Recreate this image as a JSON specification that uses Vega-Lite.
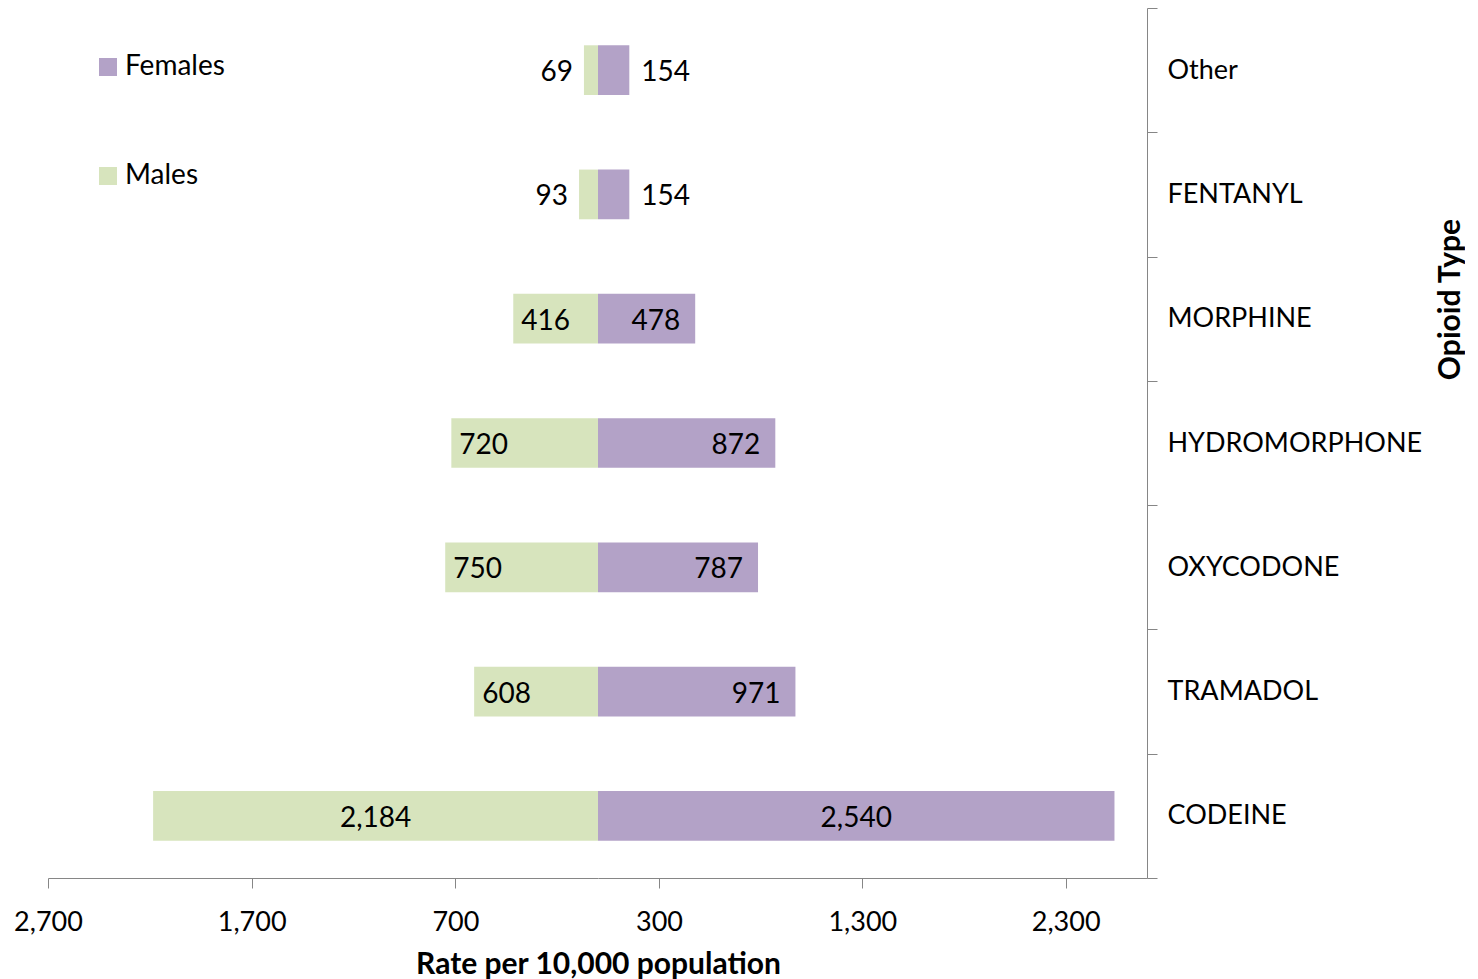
{
  "$schema": "https://vega.github.io/schema/vega-lite/v6.json",
  "autosize": "pad",
  "padding": {"left": 13, "top": -6, "right": 0, "bottom": 0},
  "background": "white",
  "data": {
    "values": [
      {"type": "Other", "sex": "Males", "value": 69},
      {"type": "Other", "sex": "Females", "value": 154},
      {"type": "FENTANYL", "sex": "Males", "value": 93},
      {"type": "FENTANYL", "sex": "Females", "value": 154},
      {"type": "MORPHINE", "sex": "Males", "value": 416},
      {"type": "MORPHINE", "sex": "Females", "value": 478},
      {"type": "HYDROMORPHONE", "sex": "Males", "value": 720},
      {"type": "HYDROMORPHONE", "sex": "Females", "value": 872},
      {"type": "OXYCODONE", "sex": "Males", "value": 750},
      {"type": "OXYCODONE", "sex": "Females", "value": 787},
      {"type": "TRAMADOL", "sex": "Males", "value": 608},
      {"type": "TRAMADOL", "sex": "Females", "value": 971},
      {"type": "CODEINE", "sex": "Males", "value": 2184},
      {"type": "CODEINE", "sex": "Females", "value": 2540}
    ]
  },
  "spacing": 0,
  "bounds": "flush",
  "resolve": {"scale": {"y": "shared", "x": "independent", "color": "shared"}},
  "hconcat": [
    {
      "width": 550,
      "height": 870,
      "transform": [{"filter": "datum.sex === 'Males'"}],
      "encoding": {
        "y": {
          "field": "type", "type": "nominal",
          "sort": ["Other", "FENTANYL", "MORPHINE", "HYDROMORPHONE", "OXYCODONE", "TRAMADOL", "CODEINE"],
          "scale": {"paddingInner": 0, "paddingOuter": 0},
          "axis": null
        }
      },
      "layer": [
        {
          "mark": {"type": "bar", "height": {"band": 0.4}},
          "encoding": {
            "x": {
              "field": "value", "type": "quantitative",
              "scale": {"domain": [0, 2700], "reverse": true, "nice": false, "zero": true},
              "axis": {"values": [700, 1700, 2700], "labelExpr": "format(datum.value, ',')", "title": null}
            },
            "color": {
              "field": "sex", "type": "nominal",
              "scale": {"domain": ["Females", "Males"], "range": ["#B3A2C7", "#D7E4BD"]},
              "legend": {
                "orient": "none", "legendX": 46, "legendY": 45, "title": null,
                "symbolType": "square", "symbolSize": 324, "symbolStrokeWidth": 0,
                "labelFont": "Lato", "labelFontSize": 28, "labelColor": "#000000",
                "labelOffset": 3, "rowPadding": 81
              }
            }
          }
        },
        {
          "transform": [{"filter": "datum.value < 300"}],
          "mark": {"type": "text", "align": "right", "dx": -11, "baseline": "middle", "dy": 3, "font": "Lato", "fontSize": 28, "color": "#000000"},
          "encoding": {
            "x": {"field": "value", "type": "quantitative", "scale": {"domain": [0, 2700], "reverse": true, "nice": false}, "axis": null},
            "text": {"field": "value", "type": "quantitative", "format": ","}
          }
        },
        {
          "transform": [{"filter": "datum.value >= 300 && datum.value < 2000"}],
          "mark": {"type": "text", "align": "left", "dx": 8, "baseline": "middle", "dy": 3, "font": "Lato", "fontSize": 28, "color": "#000000"},
          "encoding": {
            "x": {"field": "value", "type": "quantitative", "scale": {"domain": [0, 2700], "reverse": true, "nice": false}, "axis": null},
            "text": {"field": "value", "type": "quantitative", "format": ","}
          }
        },
        {
          "transform": [{"filter": "datum.value >= 2000"}],
          "mark": {"type": "text", "align": "center", "baseline": "middle", "dy": 3, "font": "Lato", "fontSize": 28, "color": "#000000"},
          "encoding": {
            "x": {"field": "value", "type": "quantitative", "scale": {"domain": [0, 5400], "reverse": true, "nice": false}, "axis": null},
            "text": {"field": "value", "type": "quantitative", "format": ","}
          }
        }
      ],
      "resolve": {"scale": {"x": "independent"}}
    },
    {
      "width": 549,
      "height": 870,
      "transform": [{"filter": "datum.sex === 'Females'"}],
      "encoding": {
        "y": {
          "field": "type", "type": "nominal",
          "sort": ["Other", "FENTANYL", "MORPHINE", "HYDROMORPHONE", "OXYCODONE", "TRAMADOL", "CODEINE"],
          "scale": {"paddingInner": 0, "paddingOuter": 0},
          "axis": {
            "orient": "right", "title": "Opioid Type", "tickBand": "extent",
            "labelFont": "Lato", "labelFontSize": 27, "labelPadding": 10, "labelLimit": 400,
            "titleFont": "Lato", "titleFontSize": 30, "titleFontWeight": "bold",
            "titleAngle": 270, "titleX": 303, "titleY": 291,
            "titleAlign": "center", "titleBaseline": "middle"
          }
        }
      },
      "layer": [
        {
          "mark": {"type": "bar", "height": {"band": 0.4}},
          "encoding": {
            "x": {
              "field": "value", "type": "quantitative",
              "scale": {"domain": [0, 2700], "nice": false, "zero": true},
              "axis": {
                "values": [300, 1300, 2300], "labelExpr": "format(datum.value, ',')",
                "title": "Rate per 10,000 population",
                "titleX": 0, "titleY": 95, "titleAlign": "center", "titleBaseline": "alphabetic",
                "titleFont": "Lato", "titleFontSize": 30, "titleFontWeight": "bold"
              }
            },
            "color": {
              "field": "sex", "type": "nominal",
              "scale": {"domain": ["Females", "Males"], "range": ["#B3A2C7", "#D7E4BD"]},
              "legend": {
                "orient": "none", "legendX": 46, "legendY": 45, "title": null,
                "symbolType": "square", "symbolSize": 324, "symbolStrokeWidth": 0,
                "labelFont": "Lato", "labelFontSize": 28, "labelColor": "#000000",
                "labelOffset": 3, "rowPadding": 81
              }
            }
          }
        },
        {
          "transform": [{"filter": "datum.value < 300"}],
          "mark": {"type": "text", "align": "left", "dx": 12, "baseline": "middle", "dy": 3, "font": "Lato", "fontSize": 28, "color": "#000000"},
          "encoding": {
            "x": {"field": "value", "type": "quantitative", "scale": {"domain": [0, 2700], "nice": false}, "axis": null},
            "text": {"field": "value", "type": "quantitative", "format": ","}
          }
        },
        {
          "transform": [{"filter": "datum.value >= 300 && datum.value < 2000"}],
          "mark": {"type": "text", "align": "right", "dx": -15, "baseline": "middle", "dy": 3, "font": "Lato", "fontSize": 28, "color": "#000000"},
          "encoding": {
            "x": {"field": "value", "type": "quantitative", "scale": {"domain": [0, 2700], "nice": false}, "axis": null},
            "text": {"field": "value", "type": "quantitative", "format": ","}
          }
        },
        {
          "transform": [{"filter": "datum.value >= 2000"}],
          "mark": {"type": "text", "align": "center", "baseline": "middle", "dy": 3, "font": "Lato", "fontSize": 28, "color": "#000000"},
          "encoding": {
            "x": {"field": "value", "type": "quantitative", "scale": {"domain": [0, 5400], "nice": false}, "axis": null},
            "text": {"field": "value", "type": "quantitative", "format": ","}
          }
        }
      ],
      "resolve": {"scale": {"x": "independent"}}
    }
  ],
  "config": {
    "view": {"stroke": null},
    "axis": {
      "domainColor": "#868686", "tickColor": "#868686", "tickSize": 10, "grid": false,
      "labelColor": "#000000", "titleColor": "#000000"
    },
    "axisX": {
      "labelFont": "Lato", "labelFontSize": 27, "labelFlush": false,
      "labelBaseline": "alphabetic", "labelPadding": 42
    }
  }
}
